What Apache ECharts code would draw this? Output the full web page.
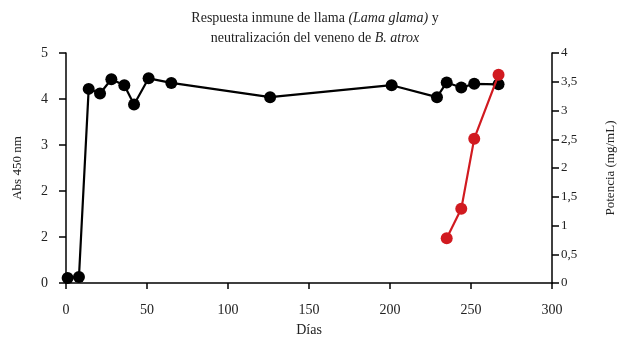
<!DOCTYPE html>
<html lang="es">
<head>
    <meta charset="UTF-8">
    <script src="https://cdn.jsdelivr.net/npm/echarts@6/dist/echarts.min.js"></script>
    <title>Respuesta inmune de llama</title>
</head>
<body style="margin:0;background:#fff;">
<div id="chart" style="width:630px;height:346px;"></div>
<script type="text/javascript">
    // datos
    var diasAbs = [1, 8, 14, 21, 28, 36, 42, 51, 65, 126, 201, 229, 235, 244, 252, 267];
    var abs450 = [0.11, 0.13, 4.22, 4.12, 4.43, 4.30, 3.88, 4.45, 4.35, 4.04, 4.30, 4.04, 4.36, 4.25, 4.33, 4.32];
    var diasPot = [235, 244, 252, 267];
    var potencia = [0.78, 1.29, 2.51, 3.62];
    var etiquetasIzq = ['0', '2', '2', '3', '4', '5'];
    var etiquetasDer = ['0', '0,5', '1', '1,5', '2', '2,5', '3', '3,5', '4'];

    var fuente = '"Liberation Serif", "DejaVu Serif", serif';
    var negro = '#000';
    var rojo = '#d11a20';

    function pares(xs, ys) {
        return xs.map(function (x, i) { return [x, ys[i]]; });
    }

    var myChart = echarts.init(document.getElementById('chart'));
    var option = {
        animation: false,
        textStyle: { fontFamily: fuente },
        title: {
            text: '{n|Respuesta inmune de llama }{i|(Lama glama)}{n| y}\n{n|neutralización del veneno de }{i|B. atrox}',
            left: 'center',
            top: 3,
            textStyle: {
                fontWeight: 'normal',
                rich: {
                    n: { fontFamily: fuente, fontSize: 14, fontWeight: 'normal', color: '#222', lineHeight: 20 },
                    i: { fontFamily: fuente, fontSize: 14, fontWeight: 'normal', color: '#222', fontStyle: 'italic', lineHeight: 20 }
                }
            }
        },
        grid: { left: 66, right: 78, top: 53, bottom: 63 },
        xAxis: {
            type: 'value',
            min: 0,
            max: 300,
            interval: 50,
            name: 'Días',
            nameLocation: 'middle',
            nameGap: 40,
            nameTextStyle: { fontFamily: fuente, fontSize: 14, color: '#222' },
            splitLine: { show: false },
            axisLine: { lineStyle: { color: negro, width: 1.5 } },
            axisTick: { length: 6, lineStyle: { color: negro, width: 1.5 } },
            axisLabel: { fontFamily: fuente, fontSize: 14, color: '#222', margin: 20 }
        },
        yAxis: [
            {
                type: 'value',
                min: 0,
                max: 5,
                interval: 1,
                name: 'Abs 450 nm',
                nameLocation: 'middle',
                nameRotate: 90,
                nameGap: 42,
                nameTextStyle: { fontFamily: fuente, fontSize: 13, color: '#222' },
                splitLine: { show: false },
                axisLine: { show: true, lineStyle: { color: negro, width: 1.5 } },
                axisTick: { show: true, length: 7, lineStyle: { color: negro, width: 1.5 } },
                axisLabel: {
                    fontFamily: fuente, fontSize: 14, color: '#222', margin: 18,
                    formatter: function (v) { return etiquetasIzq[Math.round(v)]; }
                }
            },
            {
                type: 'value',
                min: 0,
                max: 4,
                interval: 0.5,
                position: 'right',
                name: 'Potencia (mg/mL)',
                nameLocation: 'middle',
                nameRotate: 90,
                nameGap: 52,
                nameTextStyle: { fontFamily: fuente, fontSize: 13, color: '#222' },
                splitLine: { show: false },
                axisLine: { show: true, lineStyle: { color: negro, width: 1.5 } },
                axisTick: { show: true, length: 7, lineStyle: { color: negro, width: 1.5 } },
                axisLabel: {
                    fontFamily: fuente, fontSize: 13, color: '#222', margin: 9,
                    formatter: function (v) { return etiquetasDer[Math.round(v * 2)]; }
                }
            }
        ],
        series: [
            {
                name: 'Abs 450 nm',
                type: 'line',
                yAxisIndex: 0,
                data: pares(diasAbs, abs450),
                symbol: 'circle',
                symbolSize: 12,
                itemStyle: { color: negro },
                lineStyle: { color: negro, width: 2.2 },
                z: 2
            },
            {
                name: 'Potencia',
                type: 'line',
                yAxisIndex: 1,
                data: pares(diasPot, potencia),
                symbol: 'circle',
                symbolSize: 12,
                itemStyle: { color: rojo },
                lineStyle: { color: rojo, width: 2.2 },
                z: 3
            }
        ]
    };
    myChart.setOption(option);
</script>
</body>
</html>
